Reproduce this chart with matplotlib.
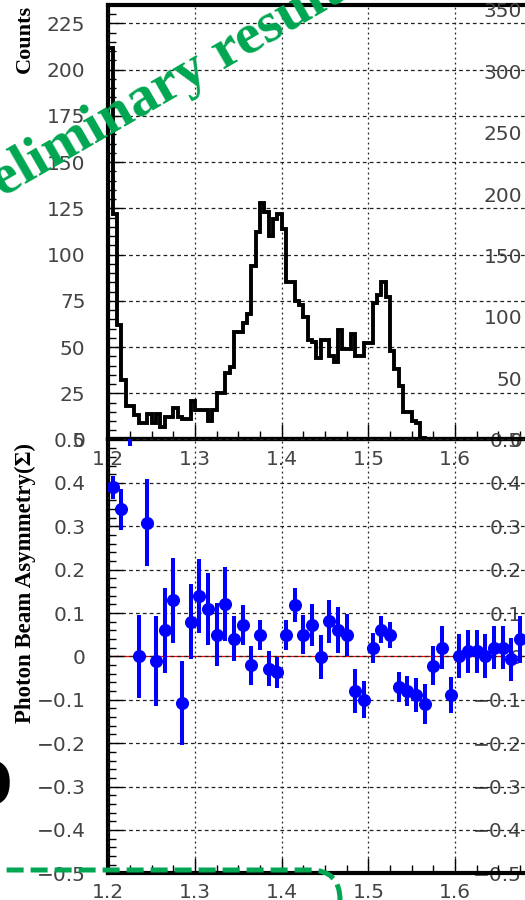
import numpy as np
import matplotlib.pyplot as plt
from matplotlib.patches import FancyBboxPatch
from matplotlib.ticker import MultipleLocator, FuncFormatter

# yield histogram (5 MeV bins from 1.2 GeV)
bin_lo = 1.2
bin_w = 0.005
counts = [212, 122, 62, 32, 18, 18, 13, 9, 9, 14,
          9, 14, 7, 12, 12, 17, 12, 11, 11, 21,
          16, 16, 16, 10, 16, 25, 25, 36, 39, 58,
          58, 63, 68, 94, 112, 128, 123, 110, 119, 122,
          114, 85, 85, 75, 73, 66, 54, 53, 44, 54,
          54, 45, 42, 59, 49, 49, 57, 45, 45, 52,
          52, 74, 78, 85, 77, 48, 38, 29, 15, 15,
          10, 9, 1]

# photon beam asymmetry per 10 MeV bin
energy = [1.205, 1.215, 1.225, 1.235, 1.245, 1.255, 1.265, 1.275, 1.285, 1.295,
          1.305, 1.315, 1.325, 1.335, 1.345, 1.355, 1.365, 1.375, 1.385, 1.395,
          1.405, 1.415, 1.425, 1.435, 1.445, 1.455, 1.465, 1.475, 1.485, 1.495,
          1.505, 1.515, 1.525, 1.535, 1.545, 1.555, 1.565, 1.575, 1.585, 1.595,
          1.605, 1.615, 1.625, 1.635, 1.645, 1.655, 1.665, 1.675]
sigma = [0.390, 0.339, 0.600, 0.000, 0.308, -0.011, 0.060, 0.129, -0.108, 0.080,
         0.140, 0.110, 0.050, 0.121, 0.041, 0.072, -0.020, 0.050, -0.028, -0.037,
         0.050, 0.119, 0.050, 0.072, -0.001, 0.081, 0.060, 0.050, -0.080, -0.100,
         0.020, 0.062, 0.050, -0.070, -0.080, -0.089, -0.110, -0.021, 0.020, -0.089,
         0.001, 0.012, 0.012, 0.001, 0.020, 0.020, -0.007, 0.039]
sigma_err = [0.027, 0.047, 0.115, 0.095, 0.100, 0.104, 0.098, 0.097, 0.097, 0.087,
             0.085, 0.083, 0.072, 0.085, 0.052, 0.046, 0.045, 0.035, 0.040, 0.035,
             0.035, 0.039, 0.045, 0.048, 0.050, 0.050, 0.053, 0.048, 0.050, 0.043,
             0.035, 0.030, 0.030, 0.035, 0.035, 0.040, 0.046, 0.045, 0.049, 0.042,
             0.050, 0.050, 0.050, 0.050, 0.050, 0.050, 0.050, 0.055]

# neighbouring pad only shows its axis labels
next_counts_max = 354

W, H = 525, 900
GREEN = '#00A651'
TICK_COLOR = '#444444'
TICK_SIZE = 14.5

fig = plt.figure(figsize=(W / 100, H / 100), dpi=100)


def pad_axes(left, top, width, height):
    return fig.add_axes([left / W, 1 - (top + height) / H, width / W, height / H])


def fmt_sigma(v, pos):
    if abs(v) < 1e-9:
        return '0'
    return ('%.1f' % v).replace('-', '\u2212')


def frame(ax, ymajor, yminor):
    ax.set_xlim(1.2, 1.8)
    ax.xaxis.set_major_locator(MultipleLocator(0.1))
    ax.xaxis.set_minor_locator(MultipleLocator(0.025))
    ax.yaxis.set_major_locator(MultipleLocator(ymajor))
    ax.yaxis.set_minor_locator(MultipleLocator(yminor))
    for s in ax.spines.values():
        s.set_linewidth(3)
    ax.tick_params(which='both', direction='in', width=1, color='black',
                   top=False, right=False, labelsize=TICK_SIZE, labelcolor=TICK_COLOR)
    ax.tick_params(which='major', length=11)
    ax.tick_params(which='minor', length=5.5)
    ax.tick_params(axis='y', pad=16.5)
    ax.xaxis.grid(True, which='major', ls=(0, (1.5, 2.5)), lw=0.9, color='#222222')
    ax.yaxis.grid(True, which='major', ls=(0, (3, 2.5)), lw=0.9, color='#222222')
    ax.set_axisbelow(False)


ax_top = pad_axes(108.3, 5, 520.2, 434.5)
ax_bot = pad_axes(108.3, 439.5, 520.2, 433.8)
ax_bot.set_zorder(2)
ax_bot.set_facecolor('none')

# counts histogram
edges = bin_lo + bin_w * np.arange(len(counts) + 1)
ax_top.stairs(counts, edges, color='black', lw=2.8, zorder=3)
frame(ax_top, 25, 5)
ax_top.set_ylim(0, 235)
ax_top.yaxis.set_major_formatter(FuncFormatter(lambda v, p: '%d' % v))
ax_top.xaxis.set_major_formatter(FuncFormatter(lambda v, p: '%.1f' % v))
ax_top.tick_params(axis='x', pad=7.5)

# beam asymmetry
ax_bot.axhline(0, color='red', lw=0.9, zorder=2)
ax_bot.errorbar(energy, sigma, yerr=sigma_err, fmt='o', color='blue', ms=8.4,
                elinewidth=2.9, capsize=0, zorder=3)
frame(ax_bot, 0.1, 0.02)
ax_bot.set_ylim(-0.5, 0.5)
ax_bot.yaxis.set_major_formatter(FuncFormatter(fmt_sigma))
ax_bot.xaxis.set_major_formatter(FuncFormatter(lambda v, p: '%.1f' % v))
ax_bot.tick_params(axis='x', pad=7)

# labels of the next pad to the right
nx_top = pad_axes(545, 5, 400, 434.5)
nx_bot = pad_axes(545, 439.5, 400, 433.8)
for ax in (nx_top, nx_bot):
    ax.set_facecolor('none')
    for s in ax.spines.values():
        s.set_visible(False)
    ax.set_xticks([])
    ax.tick_params(axis='y', length=0, pad=16.5, labelsize=TICK_SIZE,
                   labelcolor=TICK_COLOR)
nx_top.set_ylim(0, next_counts_max)
nx_top.yaxis.set_major_locator(MultipleLocator(50))
nx_top.yaxis.set_major_formatter(FuncFormatter(lambda v, p: '%d' % v))
nx_bot.set_ylim(-0.5, 0.5)
nx_bot.yaxis.set_major_locator(MultipleLocator(0.1))
nx_bot.yaxis.set_major_formatter(FuncFormatter(fmt_sigma))

# axis titles
fig.text(25 / W, 1 - 5 / H, 'Counts', rotation=90, ha='center', va='top',
         family='Liberation Serif', weight='bold', size=16)
fig.text(25 / W, 1 - 443 / H, 'Photon Beam Asymmetry(\u03a3)', rotation=90,
         ha='center', va='top', family='Liberation Serif', weight='bold', size=16.5)

fig.text(13 / W, 1 - 788 / H, 'D', ha='right', va='center',
         family='Liberation Serif', weight='bold', size=52)

# watermark and highlight box
fig.text(-50 / W, 1 - 228 / H, 'Preliminary results', rotation=30,
         rotation_mode='anchor', ha='left', va='baseline', color=GREEN,
         family='Liberation Serif', weight='bold', size=42, zorder=20)
box = FancyBboxPatch((-0.6, -1.0), 4.0, 1.3,
                     boxstyle='round,pad=0,rounding_size=0.3',
                     transform=fig.dpi_scale_trans, fill=False, ec=GREEN,
                     lw=3.6, ls=(0, (3.4, 1.4)), zorder=20, clip_on=False)
fig.add_artist(box)

fig.savefig('out.png', dpi=100)
